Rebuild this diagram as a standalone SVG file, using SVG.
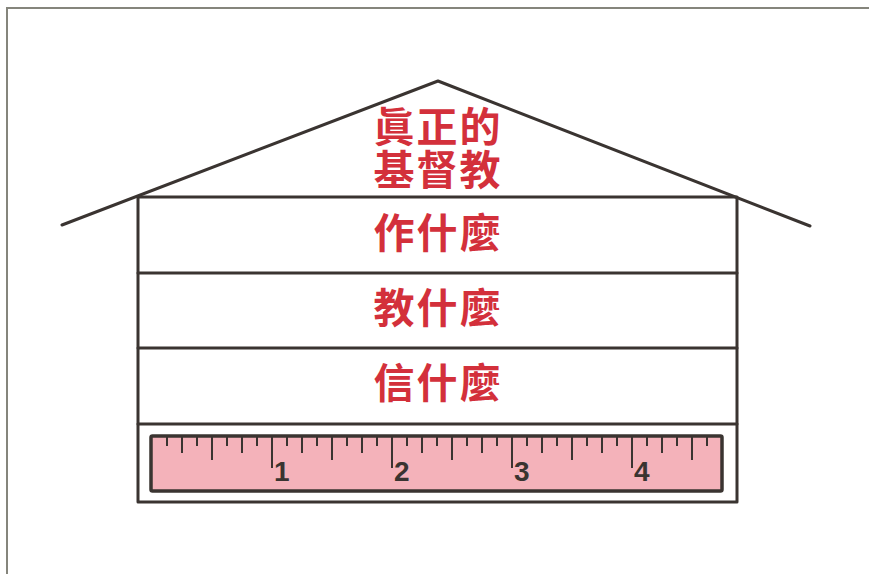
<svg xmlns="http://www.w3.org/2000/svg" width="869" height="574" viewBox="0 0 869 574">
<style>
.ln{stroke:#3a3431;stroke-width:3;fill:none;stroke-linecap:round;stroke-linejoin:round}
.zh{font-family:"Noto Sans CJK TC","Noto Sans CJK SC",sans-serif;font-weight:700;font-size:41px;fill:#d3303b;text-anchor:middle;letter-spacing:2px}
.num{font-family:"Liberation Sans",Arial,sans-serif;font-weight:700;font-size:28px;fill:#3a3431}
.tk{stroke:#3a3431;stroke-width:2}
</style>
<rect width="869" height="574" fill="#ffffff"/>
<g id="frame">
<path d="M7,574 V8 H869" fill="none" stroke="#85857c" stroke-width="2"/>
</g>
<g id="roof">
<path class="ln" d="M62,225 L438,81 L810,226"/>
<text class="zh" x="438" y="142"><tspan x="438" y="142">眞正的</tspan><tspan x="438" y="185">基督教</tspan></text>
</g>
<g id="walls">
<path class="ln" d="M138,197 V502 H737 V197 Z"/>
</g>
<g id="row-zuo">
<line class="ln" x1="138" y1="273" x2="737" y2="273"/>
<text class="zh" x="438" y="248">作什麼</text>
</g>
<g id="row-jiao">
<line class="ln" x1="138" y1="348" x2="737" y2="348"/>
<text class="zh" x="438" y="323">教什麼</text>
</g>
<g id="row-xin">
<line class="ln" x1="138" y1="424" x2="737" y2="424"/>
<text class="zh" x="438" y="398">信什麼</text>
</g>
<g id="ruler">
<rect x="151" y="436" width="571" height="55" fill="#f4b2ba" stroke="#3a3431" stroke-width="3.5" rx="1.5"/>
<g class="tk">
<line x1="167" y1="437" x2="167" y2="446"/>
<line x1="182" y1="437" x2="182" y2="453"/>
<line x1="197" y1="437" x2="197" y2="446"/>
<line x1="212" y1="437" x2="212" y2="460"/>
<line x1="227" y1="437" x2="227" y2="446"/>
<line x1="242" y1="437" x2="242" y2="453"/>
<line x1="257" y1="437" x2="257" y2="446"/>
<line x1="272" y1="437" x2="272" y2="468"/>
<line x1="287" y1="437" x2="287" y2="446"/>
<line x1="302" y1="437" x2="302" y2="453"/>
<line x1="317" y1="437" x2="317" y2="446"/>
<line x1="332" y1="437" x2="332" y2="460"/>
<line x1="347" y1="437" x2="347" y2="446"/>
<line x1="362" y1="437" x2="362" y2="453"/>
<line x1="377" y1="437" x2="377" y2="446"/>
<line x1="392" y1="437" x2="392" y2="468"/>
<line x1="407" y1="437" x2="407" y2="446"/>
<line x1="422" y1="437" x2="422" y2="453"/>
<line x1="437" y1="437" x2="437" y2="446"/>
<line x1="452" y1="437" x2="452" y2="460"/>
<line x1="467" y1="437" x2="467" y2="446"/>
<line x1="482" y1="437" x2="482" y2="453"/>
<line x1="497" y1="437" x2="497" y2="446"/>
<line x1="512" y1="437" x2="512" y2="468"/>
<line x1="527" y1="437" x2="527" y2="446"/>
<line x1="542" y1="437" x2="542" y2="453"/>
<line x1="557" y1="437" x2="557" y2="446"/>
<line x1="572" y1="437" x2="572" y2="460"/>
<line x1="587" y1="437" x2="587" y2="446"/>
<line x1="602" y1="437" x2="602" y2="453"/>
<line x1="617" y1="437" x2="617" y2="446"/>
<line x1="632" y1="437" x2="632" y2="468"/>
<line x1="647" y1="437" x2="647" y2="446"/>
<line x1="662" y1="437" x2="662" y2="453"/>
<line x1="677" y1="437" x2="677" y2="446"/>
<line x1="692" y1="437" x2="692" y2="460"/>
<line x1="707" y1="437" x2="707" y2="446"/>
</g>
<text class="num" x="274" y="481">1</text>
<text class="num" x="394" y="481">2</text>
<text class="num" x="514" y="481">3</text>
<text class="num" x="634" y="481">4</text>
</g>
</svg>
